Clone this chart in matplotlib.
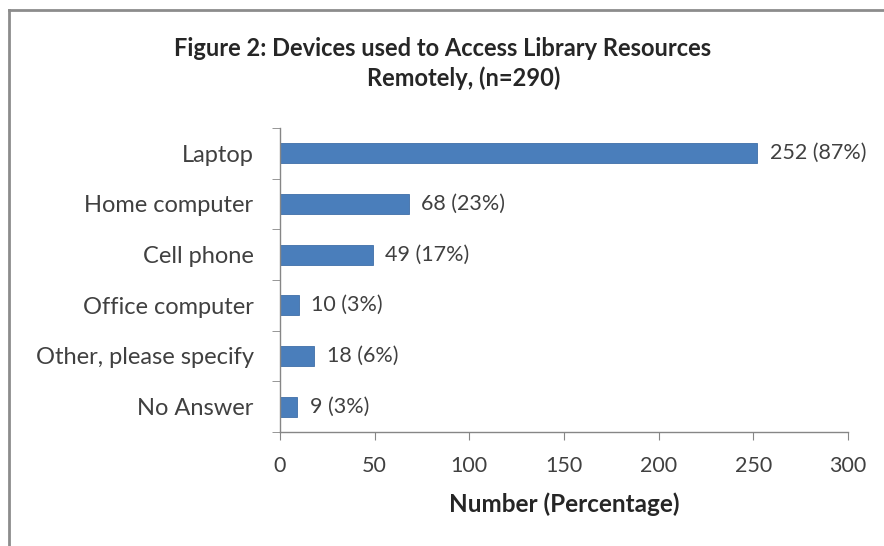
import matplotlib
matplotlib.use("Agg")
import matplotlib.pyplot as plt
from matplotlib.lines import Line2D
from matplotlib.ticker import FixedLocator

plt.rcParams["font.family"] = ["Lato", "DejaVu Sans"]

categories = ["Laptop", "Home computer", "Cell phone", "Office computer",
              "Other, please specify", "No Answer"]
counts = [252, 68, 49, 10, 18, 9]
percents = [87, 23, 17, 3, 6, 3]
x_ticks = [0, 50, 100, 150, 200, 250, 300]

title_lines = ["Figure 2: Devices used to Access Library Resources", "Remotely, (n=290)"]
x_label = "Number (Percentage)"

bar_color = "#4A7EBB"
text_color = "#404040"
axis_color = "#868686"

fig = plt.figure(figsize=(8.84, 5.46), dpi=100)
ax = fig.add_axes([280 / 884, 1 - 432 / 546, 568 / 884, 304 / 546])

y = list(range(len(categories)))
ax.barh(y, counts, height=0.4, color=bar_color, edgecolor="#3F6FA8", linewidth=0.6)

for yi, c, p in zip(y, counts, percents):
    ax.annotate(f"{c} ({p}%)", xy=(c, yi), xytext=(9, 0), textcoords="offset points",
                va="center", ha="left", fontsize=15.5, color=text_color)

ax.set_xlim(0, 300)
ax.set_ylim(len(categories) - 0.5, -0.5)
ax.set_yticks(y)
ax.set_yticklabels(categories, fontsize=17, color=text_color)
ax.yaxis.set_minor_locator(FixedLocator([i - 0.5 for i in range(len(categories) + 1)]))
ax.tick_params(axis="y", which="major", length=0, pad=19)
ax.tick_params(axis="y", which="minor", length=6, color=axis_color, direction="out")

ax.set_xticks(x_ticks)
ax.set_xticklabels([str(t) for t in x_ticks], fontsize=15.5, color=text_color)
ax.tick_params(axis="x", length=6, color=axis_color, direction="out", pad=11)
ax.set_xlabel(x_label, fontsize=17.5, fontweight="bold", color="#262626", labelpad=12)

for side in ["top", "right"]:
    ax.spines[side].set_visible(False)
for side in ["left", "bottom"]:
    ax.spines[side].set_color(axis_color)
    ax.spines[side].set_linewidth(1.0)

# two-line title, second line sits slightly right of centre
fig.text(443 / 884, 1 - 48 / 546, title_lines[0], ha="center", va="center", fontsize=17,
         fontweight="bold", color="#262626")
fig.text(464 / 884, 1 - 78 / 546, title_lines[1], ha="center", va="center", fontsize=17,
         fontweight="bold", color="#262626")

# frame around the chart area (left and top edges only)
fig.add_artist(Line2D([9 / 884, 9 / 884], [0, 1 - 10 / 546], transform=fig.transFigure,
                      color="#8C8C8C", linewidth=2))
fig.add_artist(Line2D([9 / 884, 1], [1 - 10 / 546, 1 - 10 / 546], transform=fig.transFigure,
                      color="#8C8C8C", linewidth=2))

fig.savefig("out.png", dpi=100, facecolor="white")
